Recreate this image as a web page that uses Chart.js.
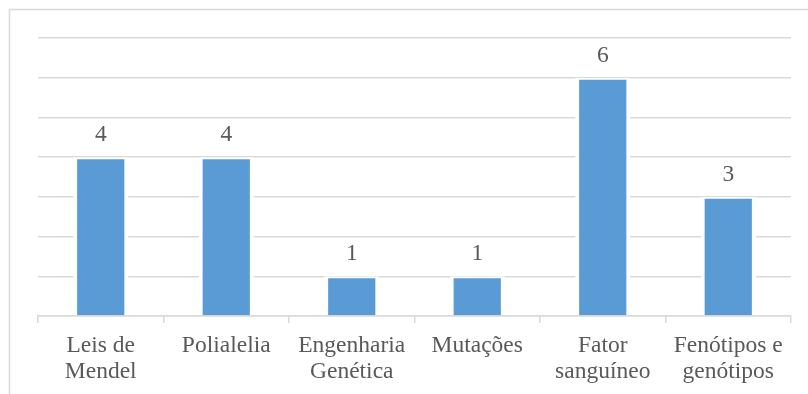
<!DOCTYPE html>
<html>
<head>
<meta charset="utf-8">
<script src="https://cdn.jsdelivr.net/npm/chart.js@4.4.1/dist/chart.umd.min.js"></script>
<style>
    html, body { margin: 0; padding: 0; background: #ffffff; }
    #chartContainer { width: 808px; height: 394px; position: relative; }
</style>
</head>
<body>
<div id="chartContainer"><canvas id="topicChart"></canvas></div>
<script>
// category labels (multi-line where the picture wraps them)
const categories = [
    ["Leis de", "Mendel"],
    "Polialelia",
    ["Engenharia", "Genética"],
    "Mutações",
    ["Fator", "sanguíneo"],
    ["Fenótipos e", "genótipos"]
];
const counts = [4, 4, 1, 1, 6, 3];
const yMin = 0;
const yMax = 7;

const textColor = "#595959";
const gridColor = "#d9d9d9";
const barColor = "#5b9bd5";
const serifFont = "'Liberation Serif', 'Times New Roman', serif";

/*
draws the light frame around the whole chart
and the value above each bar
*/
const extrasPlugin = {
    id: "extras",
    beforeDraw(chart) {
        const ctx = chart.ctx;
        ctx.save();
        ctx.strokeStyle = gridColor;
        ctx.lineWidth = 1.5;
        ctx.strokeRect(9.5, 9.5, 900, 900);
        ctx.restore();
    },
    afterDatasetsDraw(chart) {
        const ctx = chart.ctx;
        const meta = chart.getDatasetMeta(0);
        ctx.save();
        ctx.fillStyle = textColor;
        ctx.font = "23.5px " + serifFont;
        ctx.textAlign = "center";
        ctx.textBaseline = "alphabetic";
        meta.data.forEach((bar, i) => {
            ctx.fillText(String(counts[i]), bar.x, bar.y - 16);
        });
        ctx.restore();
    }
};

new Chart(document.getElementById("topicChart"), {
    type: "bar",
    data: {
        labels: categories,
        datasets: [{
            data: counts,
            backgroundColor: barColor,
            borderColor: "#ffffff",
            borderWidth: { top: 2, left: 4, right: 4, bottom: 0 },
            borderSkipped: false,
            barPercentage: 0.44,
            categoryPercentage: 1.0
        }]
    },
    options: {
        responsive: true,
        maintainAspectRatio: false,
        animation: false,
        layout: {
            padding: { left: 38, right: 17, top: 38, bottom: 0 }
        },
        plugins: {
            legend: { display: false },
            tooltip: { enabled: false }
        },
        scales: {
            x: {
                grid: {
                    offset: true,
                    drawOnChartArea: false,
                    drawTicks: true,
                    tickLength: 7,
                    color: gridColor,
                    lineWidth: 1.5
                },
                border: { display: true, color: gridColor, width: 1.5 },
                ticks: {
                    color: textColor,
                    font: { family: serifFont, size: 23.5, lineHeight: 1.1 },
                    padding: 10,
                    maxRotation: 0,
                    autoSkip: false
                },
                afterFit(scale) {
                    scale.height = 78;
                }
            },
            y: {
                min: yMin,
                max: yMax,
                ticks: { display: false, stepSize: 1 },
                grid: {
                    color: gridColor,
                    lineWidth: 1.5,
                    drawTicks: false
                },
                border: { display: false },
                afterFit(scale) {
                    scale.width = 0;
                }
            }
        }
    },
    plugins: [extrasPlugin]
});
</script>
</body>
</html>
